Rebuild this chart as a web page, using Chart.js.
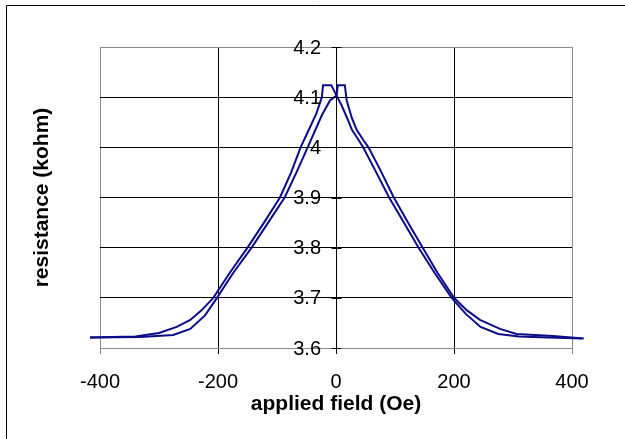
<!DOCTYPE html>
<html>
<head>
<meta charset="utf-8">
<script src="https://cdn.jsdelivr.net/npm/chart.js@4/dist/chart.umd.min.js"></script>
<style>
  html, body { margin: 0; padding: 0; background: #ffffff; }
  canvas { display: block; }
</style>
</head>
<body>
<canvas id="c" width="625" height="439"></canvas>
<script>
// Sweep from +H down to -H (peak at negative field)
const downField = [-417, -380, -340, -300, -270, -247, -228, -208, -180, -150, -122, -95, -76, -60, -46, -33, -24, -22, -8, 1, 9, 19, 27, 38, 46, 66, 90, 115, 140, 167, 196, 220, 245, 275, 310, 360, 417];
const downRes   = [3.621, 3.622, 3.623, 3.630, 3.642, 3.656, 3.675, 3.700, 3.750, 3.800, 3.850, 3.900, 3.950, 4.000, 4.035, 4.068, 4.100, 4.124, 4.124, 4.103, 4.085, 4.058, 4.035, 4.015, 4.000, 3.955, 3.900, 3.850, 3.800, 3.750, 3.700, 3.668, 3.642, 3.628, 3.623, 3.621, 3.619];
// Sweep from -H up to +H (peak at positive field)
const upField = [-417, -332, -276, -247, -222, -204, -174, -143, -115, -87, -67, -48, -33, -24, -10, 1, 3, 15, 18, 27, 35, 46, 55, 75, 98, 122, 147, 172, 200, 222, 244, 278, 306, 368, 420];
const upRes   = [3.621, 3.622, 3.626, 3.638, 3.665, 3.696, 3.750, 3.800, 3.850, 3.900, 3.950, 4.000, 4.040, 4.064, 4.094, 4.103, 4.124, 4.124, 4.094, 4.058, 4.035, 4.015, 4.000, 3.955, 3.900, 3.850, 3.800, 3.750, 3.700, 3.675, 3.656, 3.638, 3.628, 3.624, 3.619];

const xTicks = [-400, -200, 0, 200, 400];
const yTicks = [3.6, 3.7, 3.8, 3.9, 4.0, 4.1, 4.2];
const yTickLabels = ['3.6', '3.7', '3.8', '3.9', '4', '4.1', '4.2'];
const xTitle = 'applied field (Oe)';
const yTitle = 'resistance (kohm)';

const toPts = (xs, ys) => xs.map((x, i) => ({ x: x, y: ys[i] }));
const lineColor = '#0c0c88';
const FONT = '"Liberation Sans", Arial, sans-serif';

const extras = {
  id: 'extras',
  beforeDraw(chart) {
    const ctx = chart.ctx;
    ctx.save();
    ctx.fillStyle = '#ffffff';
    ctx.fillRect(0, 0, chart.width, chart.height);
    ctx.restore();
  },
  afterDraw(chart) {
    const ctx = chart.ctx;
    const ca = chart.chartArea;
    const xs = chart.scales.x, ys = chart.scales.y;
    ctx.save();
    // outer frame (left and top)
    ctx.strokeStyle = '#000000';
    ctx.lineWidth = 1;
    ctx.beginPath();
    ctx.moveTo(6.5, 439);
    ctx.lineTo(6.5, 5.5);
    ctx.lineTo(625, 5.5);
    ctx.stroke();
    // cross ticks on the y axis at x = 0
    const xPix = xs.getPixelForValue(0);
    const x0 = Math.round(xPix) + 0.5;
    ctx.beginPath();
    yTicks.forEach(v => {
      const py = Math.round(ys.getPixelForValue(v)) + 0.5;
      ctx.moveTo(x0 - 5, py);
      ctx.lineTo(x0 + 5, py);
    });
    ctx.stroke();
    // y tick labels, left of the axis at x = 0
    ctx.fillStyle = '#000000';
    ctx.font = '20px ' + FONT;
    ctx.textAlign = 'right';
    ctx.textBaseline = 'middle';
    yTicks.forEach((v, i) => {
      ctx.fillText(yTickLabels[i], xPix - 15, ys.getPixelForValue(v) + 1);
    });
    // y axis title
    ctx.font = 'bold 21px ' + FONT;
    ctx.textAlign = 'center';
    ctx.translate(42, (ca.top + ca.bottom) / 2);
    ctx.rotate(-Math.PI / 2);
    ctx.fillText(yTitle, 0, 0);
    ctx.restore();
  }
};

new Chart(document.getElementById('c'), {
  type: 'scatter',
  data: {
    datasets: [
      { data: toPts(downField, downRes), showLine: true, borderColor: lineColor, borderWidth: 2, pointRadius: 0, fill: false, tension: 0, clip: false },
      { data: toPts(upField, upRes), showLine: true, borderColor: lineColor, borderWidth: 2, pointRadius: 0, fill: false, tension: 0, clip: false }
    ]
  },
  options: {
    responsive: false,
    animation: false,
    events: [],
    layout: { padding: { left: 100, right: 53, top: 47, bottom: 22 } },
    plugins: { legend: { display: false }, tooltip: { enabled: false } },
    scales: {
      x: {
        type: 'linear',
        position: 'bottom',
        min: -400, max: 400,
        afterBuildTicks(scale) { scale.ticks = xTicks.map(v => ({ value: v })); },
        afterFit(scale) { scale.height = 69; },
        grid: {
          color: ctx => (Math.abs(ctx.tick.value) === 400 ? '#8a8a8a' : '#000000'),
          lineWidth: 1,
          drawTicks: true,
          tickLength: 6
        },
        border: { display: true, color: '#8a8a8a' },
        ticks: {
          color: '#000000',
          font: { family: FONT, size: 20 },
          padding: 16,
          maxRotation: 0,
          callback: v => String(v)
        },
        title: {
          display: true,
          text: xTitle,
          color: '#000000',
          font: { family: FONT, size: 21, weight: 'bold' },
          padding: { top: 0, bottom: 0 }
        }
      },
      y: {
        type: 'linear',
        position: { x: 0 },
        min: 3.6, max: 4.2,
        afterBuildTicks(scale) { scale.ticks = yTicks.map(v => ({ value: v })); },
        grid: {
          color: ctx => ((ctx.tick.value < 3.65 || ctx.tick.value > 4.15) ? '#8a8a8a' : '#000000'),
          lineWidth: 1,
          drawTicks: false
        },
        border: { display: true, color: '#000000' },
        ticks: { display: false }
      }
    }
  },
  plugins: [extras]
});
</script>
</body>
</html>
